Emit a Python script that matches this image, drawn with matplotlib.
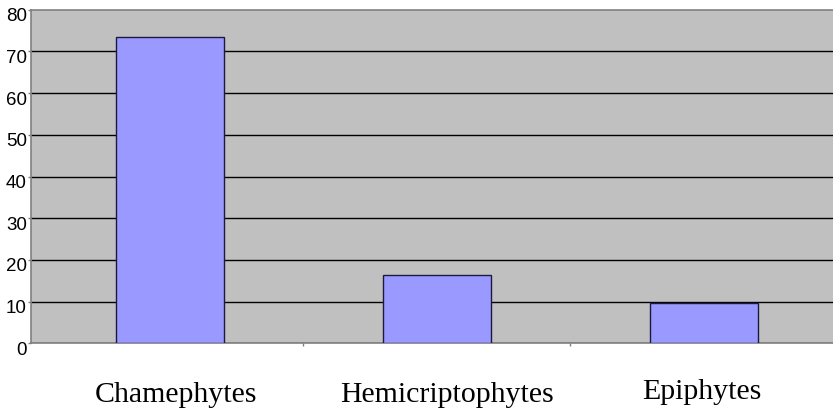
import matplotlib.pyplot as plt
import matplotlib.transforms as mtransforms

categories = ['Chamephytes', 'Hemicriptophytes', 'Epiphytes']
values = [73.5, 16.4, 9.6]
y_ticks = [0, 10, 20, 30, 40, 50, 60, 70, 80]

# small pixel nudges of the category labels, as placed in the original
label_dx = [6, 10, -2]
label_dy = [0, 0, 3]

fig = plt.figure(figsize=(8.33, 4.11), dpi=100)
ax = fig.add_axes([0.0372, 0.1647, 0.9628, 0.8117])
ax.set_facecolor('#c0c0c0')

x = range(len(categories))
ax.bar(x, values, width=0.405, color='#9999ff', edgecolor='#1a1a40', linewidth=1, zorder=3)

ax.set_ylim(0, 80)
ax.set_xlim(-0.52, 2.484)
ax.set_yticks(y_ticks)
ax.yaxis.grid(True, color='black', linewidth=1, zorder=1)
ax.set_axisbelow(True)
ax.yaxis.get_gridlines()[-1].set_visible(False)

ax.spines['right'].set_visible(False)
for s in ['left', 'bottom', 'top']:
    ax.spines[s].set_color('#808080')
    ax.spines[s].set_linewidth(1.2)

ax.tick_params(axis='y', length=2.5, width=1, color='#808080', pad=0.5,
               labelsize=13.5, labelfontfamily='Liberation Sans')
for lab in ax.get_yticklabels():
    lab.set_transform(lab.get_transform() + mtransforms.ScaledTranslation(0, -5 / 100, fig.dpi_scale_trans))

ax.set_xticks(list(x))
ax.set_xticklabels(categories, family='Liberation Serif', fontsize=21.5)
ax.tick_params(axis='x', which='major', length=0, pad=28)
ax.set_xticks([0.5, 1.5], minor=True)
ax.tick_params(axis='x', which='minor', length=2.5, width=1, color='#808080')

for lab, dx, dy in zip(ax.get_xticklabels(), label_dx, label_dy):
    lab.set_transform(lab.get_transform() + mtransforms.ScaledTranslation(dx / 100, dy / 100, fig.dpi_scale_trans))

fig.savefig('out.png', dpi=100)
